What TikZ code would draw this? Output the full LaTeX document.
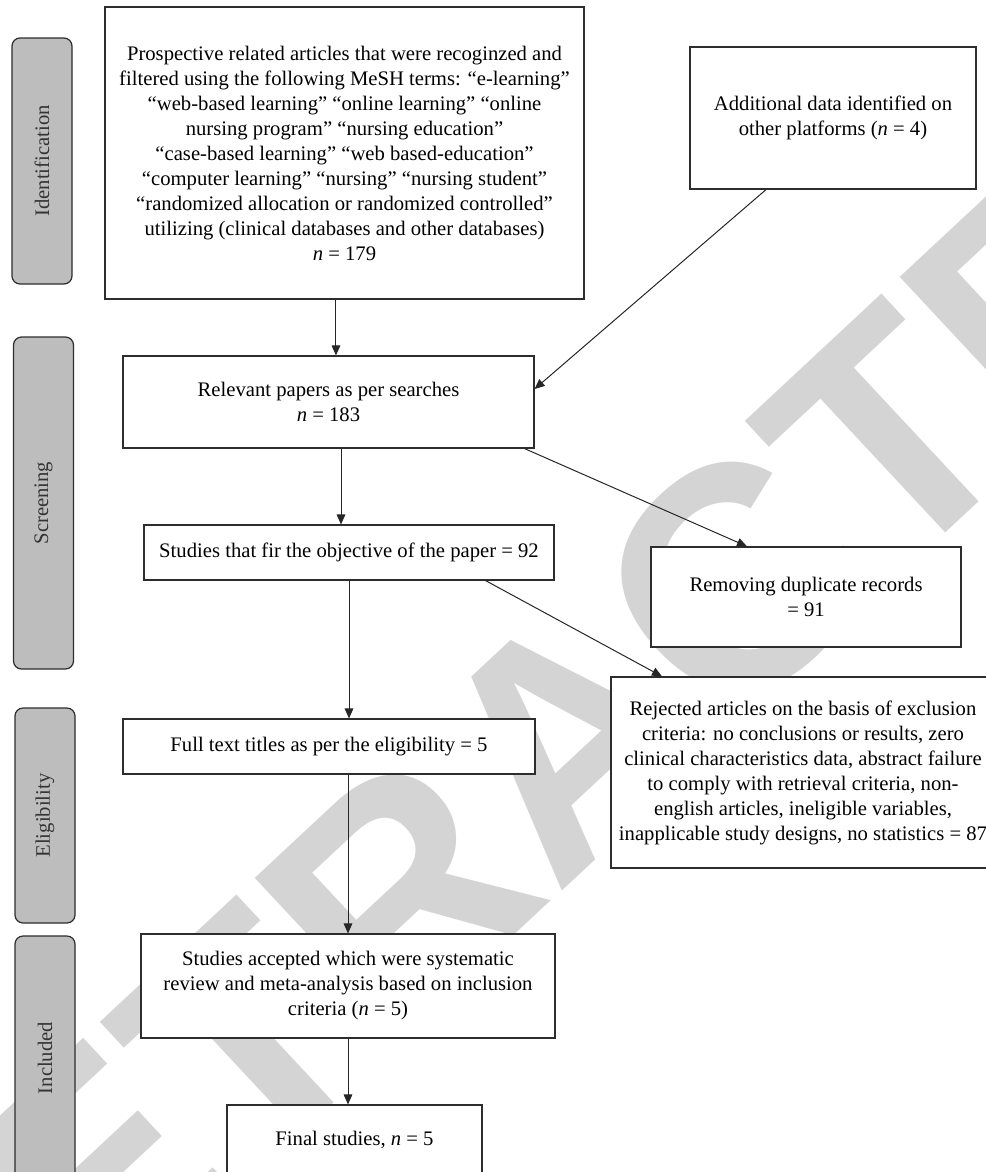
\documentclass[tikz,border=0pt]{standalone}
\usepackage{fontspec}
\setmainfont{Liberation Serif}
\newfontfamily\markfont{Liberation Sans}
\usetikzlibrary{arrows.meta}
\definecolor{stageGray}{RGB}{189,189,189}
\definecolor{markGray}{RGB}{212,212,212}
\definecolor{lineGray}{RGB}{45,45,45}
\newdimen\px \px=0.75pt
\newcommand{\drawStage}[4]{\node[stageLabel, minimum width=#3\px] (#1) at #2 {#4}}

\tikzset{
    flowBox/.style={draw=lineGray, line width=0.9pt, fill=white, align=center, inner sep=0pt,
        font=\fontsize{15.5}{18.75}\selectfont},
    stageLabel/.style={draw=lineGray, line width=0.9pt, fill=stageGray, rounded corners=6pt,
        rotate=90, minimum height=60\px, inner sep=0pt, text=black!80,
        font=\fontsize{15.5}{18.75}\selectfont},
    flowArrow/.style={draw=black!85, line width=0.75pt, -{Triangle[length=7.5pt,width=6.5pt]}},
    markText/.style={text=markGray, inner sep=0pt, font=\markfont\bfseries\fontsize{238}{238}\selectfont}
}

\begin{document}
\begin{tikzpicture}[x=0.75pt, y=-0.75pt]
    \useasboundingbox (0,0) rectangle (986,1172);

    % watermark behind everything
    \node[markText, rotate=43, anchor=base] (mark) at (640,818) {RETRACTED};

    % stages on the left
    \drawStage{ident}{(42,161)}{246}{Identification};
    \drawStage{screen}{(43.5,503)}{332}{Screening};
    \drawStage{elig}{(45,815.5)}{215}{Eligibility};
    \drawStage{incl}{(45,1058)}{244}{Included};

    % identification
    \node[flowBox, minimum width=479\px, minimum height=292\px] (search) at (344.5,153)
        {Prospective related articles that were recoginzed and\\
         filtered using the following MeSH terms: “e-learning”\\
         “web-based learning” “online learning” “online\\
         nursing program” “nursing education”\\
         “case-based learning” “web based-education”\\
         “computer learning” “nursing” “nursing student”\\
         “randomized allocation or randomized controlled”\\
         utilizing (clinical databases and other databases)\\
         \textit{n} = 179};
    \node[flowBox, minimum width=286\px, minimum height=142\px] (additional) at (833,118)
        {Additional data identified on\\other platforms (\textit{n} = 4)};

    % screening
    \node[flowBox, minimum width=411\px, minimum height=92\px] (relevant) at (328.5,402)
        {Relevant papers as per searches\\\textit{n} = 183};
    \node[flowBox, minimum width=410\px, minimum height=55\px] (fit) at (349,552.5)
        {Studies that fir the objective of the paper = 92};
    \node[flowBox, minimum width=310\px, minimum height=100\px] (duplicate) at (806,597)
        {Removing duplicate records\\= 91};

    % eligibility
    \node[flowBox, minimum width=384\px, minimum height=191\px] (rejected) at (803,772.5)
        {Rejected articles on the basis of exclusion\\
         criteria: no conclusions or results, zero\\
         clinical characteristics data, abstract failure\\
         to comply with retrieval criteria, non-\\
         english articles, ineligible variables,\\
         inapplicable study designs, no statistics = 87};
    \node[flowBox, minimum width=412\px, minimum height=55\px] (fulltext) at (329,746.5)
        {Full text titles as per the eligibility = 5};

    % included
    \node[flowBox, minimum width=414\px, minimum height=104\px] (accepted) at (348,986)
        {Studies accepted which were systematic\\
         review and meta-analysis based on inclusion\\
         criteria (\textit{n} = 5)};
    \node[flowBox, minimum width=255\px, minimum height=70\px] (final) at (354.5,1140)
        {Final studies, \textit{n} = 5};

    % arrows
    \draw[flowArrow] ([xshift=-6.4pt]search.south) -- ([xshift=-6.4pt]search.south |- relevant.north);
    \draw[flowArrow] ([xshift=-50.25pt]additional.south) -- ([yshift=9.75pt]relevant.east);
    \draw[flowArrow] ([xshift=-6pt]fit.north |- relevant.south) -- ([xshift=-6pt]fit.north);
    \draw[flowArrow] ([xshift=-7.5pt]relevant.south east) -- ([xshift=-44.25pt]duplicate.north);
    \draw[flowArrow] (fit.south) -- (fit.south |- fulltext.north);
    \draw[flowArrow] ([xshift=-51.75pt]fit.south east) -- ([xshift=-105.75pt]rejected.north);
    \draw[flowArrow] (accepted.north |- fulltext.south) -- (accepted.north);
    \draw[flowArrow] (accepted.south) -- (accepted.south |- final.north);
\end{tikzpicture}
\end{document}
